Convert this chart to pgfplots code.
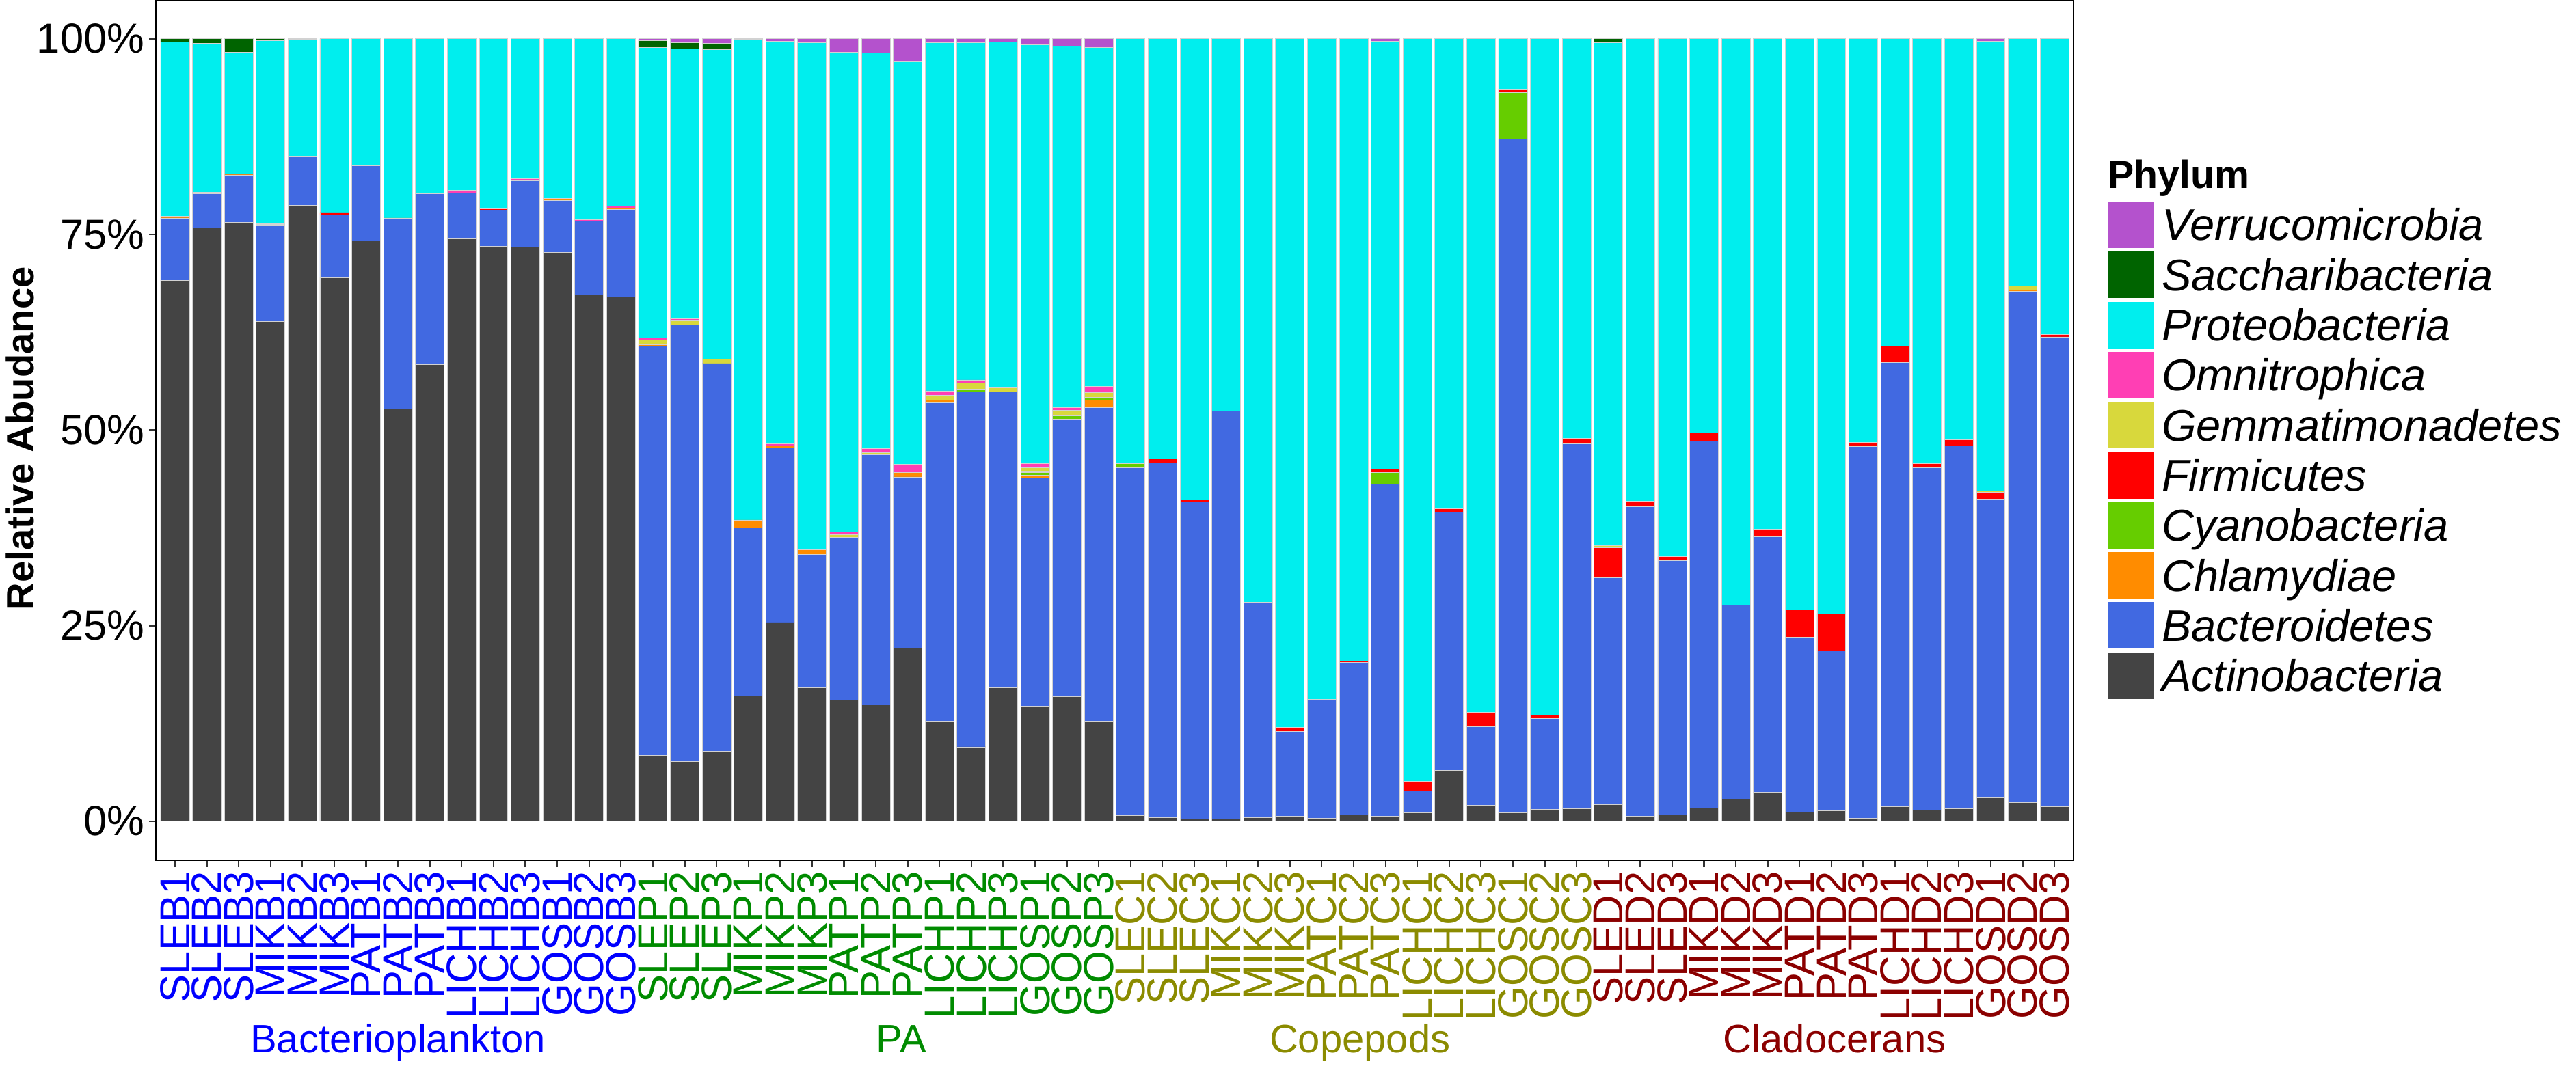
\documentclass[border=0pt]{standalone}
\usepackage{fontspec}
\setmainfont{Liberation Sans}
\usepackage{pgfplots}
\usepackage{pgfplotstable}
\pgfplotsset{compat=1.18}

\definecolor{cAct}{HTML}{444444}
\definecolor{cBac}{HTML}{4169E1}
\definecolor{cChl}{HTML}{FF8C00}
\definecolor{cCya}{HTML}{66CD00}
\definecolor{cFir}{HTML}{FF0000}
\definecolor{cGem}{HTML}{D8D83C}
\definecolor{cOmn}{HTML}{FF3FB4}
\definecolor{cPro}{HTML}{00EEEE}
\definecolor{cSac}{HTML}{006400}
\definecolor{cVer}{HTML}{B452CD}
% sample group colours
\definecolor{gB}{HTML}{0000FF}
\definecolor{gP}{HTML}{008B00}
\definecolor{gC}{HTML}{8B8B00}
\definecolor{gD}{HTML}{8B0000}
\newcommand{\lb}[1]{\textcolor{gB}{#1}}
\newcommand{\lp}[1]{\textcolor{gP}{#1}}
\newcommand{\lc}[1]{\textcolor{gC}{#1}}
\newcommand{\ld}[1]{\textcolor{gD}{#1}}
\newcommand{\grpfont}{\fontsize{16.5}{18}\selectfont}

% relative abundance (%) per sample, columns stacked bottom to top
\pgfplotstableread{
x act bac chl cya fir gem omn pro sac ver
0 69.1 8.0 0.1 0 0.1 0 0 22.3 0.4 0
1 75.8 4.4 0.1 0 0.1 0 0 19.0 0.6 0
2 76.5 6.1 0.1 0 0 0 0 15.6 1.7 0
3 63.9 12.2 0.1 0 0.1 0 0.1 23.4 0.2 0
4 78.7 6.2 0.1 0 0 0 0 14.9 0.1 0
5 69.5 8.0 0 0 0.3 0 0 22.2 0 0
6 74.2 9.6 0.1 0 0 0 0 16.1 0 0
7 52.7 24.3 0.1 0 0 0 0 22.9 0 0
8 58.4 21.8 0.1 0 0 0 0 19.7 0 0
9 74.4 5.9 0 0 0 0 0.3 19.4 0 0
10 73.5 4.6 0 0 0.2 0 0 21.7 0 0
11 73.4 8.5 0 0 0 0 0.2 17.9 0 0
12 72.7 6.6 0.3 0 0 0 0 20.4 0 0
13 67.3 9.4 0 0 0 0 0.2 23.1 0 0
14 67.0 11.2 0.2 0 0 0 0.2 21.4 0 0
15 8.4 52.3 0.2 0 0 0.6 0.3 37.1 0.9 0.2
16 7.6 55.8 0 0 0 0.6 0.2 34.5 0.8 0.5
17 8.9 49.6 0 0 0 0.6 0 39.5 0.8 0.6
18 16.0 21.5 1.0 0 0 0 0 61.4 0 0.1
19 25.4 22.3 0.3 0 0 0 0.2 51.5 0 0.3
20 17.1 17.0 0.6 0 0 0 0 64.8 0.1 0.4
21 15.5 20.8 0 0 0 0.3 0.4 61.3 0 1.7
22 14.9 31.9 0 0 0 0.3 0.5 50.6 0 1.8
23 22.1 21.9 0.6 0 0 0 1.0 51.5 0 2.9
24 12.8 40.7 0.3 0 0 0.6 0.6 44.5 0 0.5
25 9.5 45.4 0 0.3 0 0.8 0.4 43.1 0 0.5
26 17.1 37.8 0 0 0 0.5 0.1 44.1 0 0.4
27 14.7 29.2 0.3 0.4 0.1 0.5 0.5 53.5 0.1 0.7
28 15.9 35.5 0 0.4 0 0.7 0.4 46.2 0 0.9
29 12.8 40.1 0.9 0.4 0 0.6 0.8 43.3 0 1.1
30 0.7 44.5 0 0.5 0.1 0 0 54.2 0 0
31 0.5 45.3 0 0 0.5 0 0 53.7 0 0
32 0.3 40.5 0 0 0.3 0 0 58.9 0 0
33 0.3 52.1 0 0 0 0 0 47.6 0 0
34 0.5 27.4 0 0 0.1 0 0 72.0 0 0
35 0.6 10.9 0 0 0.5 0 0 88.0 0 0
36 0.4 15.2 0 0 0 0 0 84.4 0 0
37 0.8 19.5 0 0 0.2 0 0 79.5 0 0
38 0.6 42.5 0 1.5 0.4 0 0 54.7 0 0.3
39 1.1 2.8 0 0 1.2 0 0 94.9 0 0
40 6.5 33.0 0 0 0.4 0 0 60.1 0 0
41 2.0 10.1 0 0 1.8 0 0 86.1 0 0
42 1.1 86.1 0 5.9 0.5 0 0 6.4 0 0
43 1.5 11.6 0 0 0.5 0 0 86.4 0 0
44 1.6 46.6 0 0 0.7 0 0 51.1 0 0
45 2.1 29.0 0 0 3.9 0.2 0 64.3 0.5 0
46 0.6 39.6 0 0 0.7 0 0 59.1 0 0
47 0.8 32.5 0 0 0.5 0 0 66.2 0 0
48 1.7 46.9 0 0 1.0 0 0 50.4 0 0
49 2.8 24.8 0 0 0 0 0 72.4 0 0
50 3.7 32.7 0 0 0.9 0 0 62.7 0 0
51 1.2 22.3 0 0 3.5 0 0 73.0 0 0
52 1.3 20.5 0 0 4.7 0 0 73.5 0 0
53 0.4 47.5 0 0 0.5 0 0 51.6 0 0
54 1.9 56.7 0 0 2.1 0 0 39.3 0 0
55 1.4 43.8 0 0 0.5 0 0 54.3 0 0
56 1.6 46.4 0 0 0.8 0 0 51.2 0 0
57 3.0 38.2 0 0 0.8 0.2 0 57.5 0 0.3
58 2.4 65.3 0.2 0 0 0.5 0 31.6 0 0
59 1.9 60.0 0 0 0.3 0 0 37.8 0 0
}\phyla

\begin{document}
\begin{tikzpicture}
\begin{axis}[
    at={(22.8mm,30mm)}, anchor=south west,
    scale only axis,
    width=280.5mm, height=125.95mm,
    xmin=-0.6, xmax=59.6,
    ymin=-5, ymax=105,
    ybar stacked, bar width=0.9,
    every axis plot/.append style={draw=gray!35, line width=0.08mm},
    axis line style={line width=0.6pt},
    tick pos=left, tick align=outside,
    major tick length=1mm,
    tick style={color=black!80, line width=0.6pt},
    xtick={0,...,59},
    xticklabels={\lb{SLEB1},\lb{SLEB2},\lb{SLEB3},\lb{MIKB1},\lb{MIKB2},\lb{MIKB3},
      \lb{PATB1},\lb{PATB2},\lb{PATB3},\lb{LICHB1},\lb{LICHB2},\lb{LICHB3},
      \lb{GOSB1},\lb{GOSB2},\lb{GOSB3},
      \lp{SLEP1},\lp{SLEP2},\lp{SLEP3},\lp{MIKP1},\lp{MIKP2},\lp{MIKP3},
      \lp{PATP1},\lp{PATP2},\lp{PATP3},\lp{LICHP1},\lp{LICHP2},\lp{LICHP3},
      \lp{GOSP1},\lp{GOSP2},\lp{GOSP3},
      \lc{SLEC1},\lc{SLEC2},\lc{SLEC3},\lc{MIKC1},\lc{MIKC2},\lc{MIKC3},
      \lc{PATC1},\lc{PATC2},\lc{PATC3},\lc{LICHC1},\lc{LICHC2},\lc{LICHC3},
      \lc{GOSC1},\lc{GOSC2},\lc{GOSC3},
      \ld{SLED1},\ld{SLED2},\ld{SLED3},\ld{MIKD1},\ld{MIKD2},\ld{MIKD3},
      \ld{PATD1},\ld{PATD2},\ld{PATD3},\ld{LICHD1},\ld{LICHD2},\ld{LICHD3},
      \ld{GOSD1},\ld{GOSD2},\ld{GOSD3}},
    xticklabel style={rotate=90, anchor=east, inner sep=0.6mm,
      font=\fontsize{17.5}{18}\selectfont},
    ytick={0,25,50,75,100},
    yticklabels={0\%,25\%,50\%,75\%,100\%},
    yticklabel style={font=\fontsize{17.5}{18}\selectfont, inner sep=0.6mm},
    ylabel={Relative Abudance},
    ylabel style={at={(axis description cs:-0.0709,0.49)}, anchor=center,
      font=\bfseries\fontsize{16}{18}\selectfont},
    clip=false,
    reverse legend,
    legend cell align=left,
    legend image code/.code={\path[#1, draw=none] (0mm,-3.4mm) rectangle (6.8mm,3.4mm);},
    legend style={draw=none, fill=none, at={(1.01783,0.76749)}, anchor=north west,
      inner sep=0pt, outer sep=0pt, row sep=0pt, column sep=1.1mm,
      font=\itshape\fontsize{18.5}{20}\selectfont,
      nodes={inner sep=0pt, text height=5.955mm, text depth=1.375mm}},
]
\addplot[fill=cAct] table[x=x, y=act] {\phyla};
\addlegendentry{Actinobacteria}
\addplot[fill=cBac] table[x=x, y=bac] {\phyla};
\addlegendentry{Bacteroidetes}
\addplot[fill=cChl] table[x=x, y=chl] {\phyla};
\addlegendentry{Chlamydiae}
\addplot[fill=cCya] table[x=x, y=cya] {\phyla};
\addlegendentry{Cyanobacteria}
\addplot[fill=cFir] table[x=x, y=fir] {\phyla};
\addlegendentry{Firmicutes}
\addplot[fill=cGem] table[x=x, y=gem] {\phyla};
\addlegendentry{Gemmatimonadetes}
\addplot[fill=cOmn] table[x=x, y=omn] {\phyla};
\addlegendentry{Omnitrophica}
\addplot[fill=cPro] table[x=x, y=pro] {\phyla};
\addlegendentry{Proteobacteria}
\addplot[fill=cSac] table[x=x, y=sac] {\phyla};
\addlegendentry{Saccharibacteria}
\addplot[fill=cVer] table[x=x, y=ver] {\phyla};
\addlegendentry{Verrucomicrobia}

\node[anchor=base, text=gB, font=\grpfont] at (axis cs:7,-29.6) {Bacterioplankton};
\node[anchor=base, text=gP, font=\grpfont] at (axis cs:22.8,-29.6) {PA};
\node[anchor=base, text=gC, font=\grpfont] at (axis cs:37.2,-29.6) {Copepods};
\node[anchor=base, text=gD, font=\grpfont] at (axis cs:52.1,-29.6) {Cladocerans};
\end{axis}
\node[anchor=base west, inner sep=0pt, font=\bfseries\fontsize{16.3}{18}\selectfont] at (308.3mm,128.3mm) {Phylum};
\pgfresetboundingbox
\path[use as bounding box] (0,0) rectangle (376.8mm,155.9mm);
\end{tikzpicture}
\end{document}
